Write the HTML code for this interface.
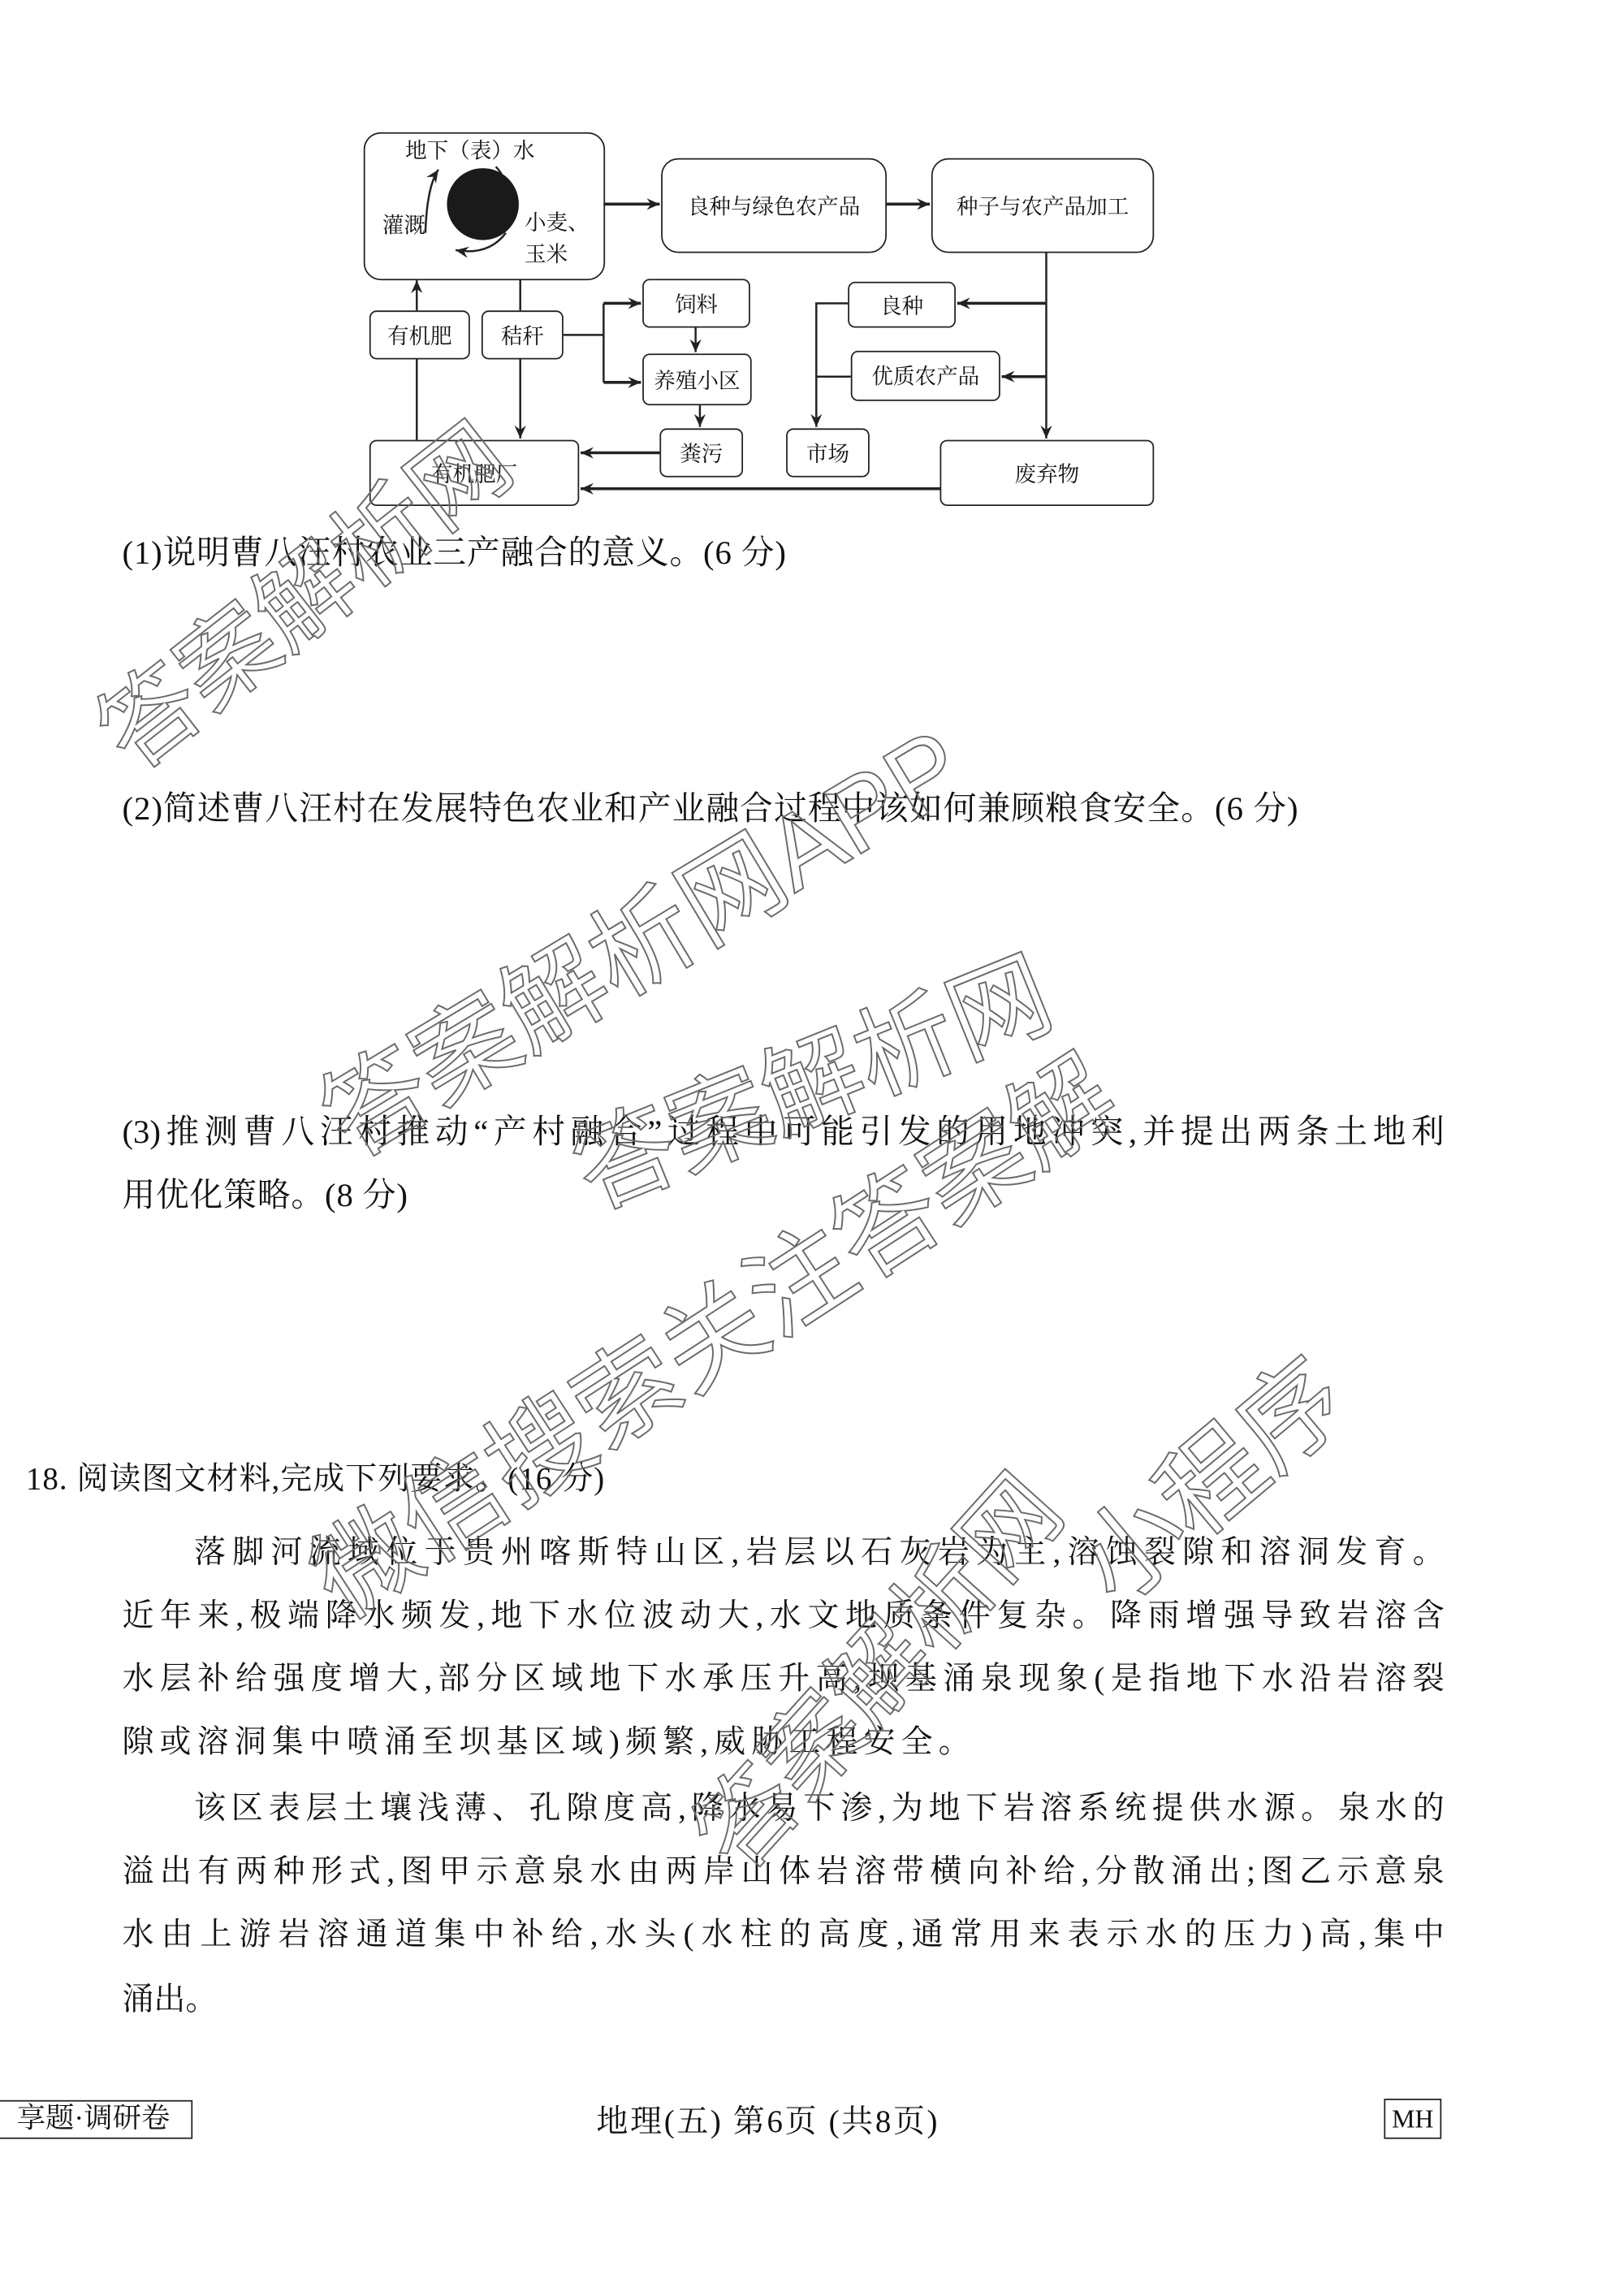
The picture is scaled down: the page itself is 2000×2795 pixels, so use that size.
<!DOCTYPE html>
<html><head><meta charset="utf-8"><style>
html,body{margin:0;padding:0;background:#fff;}
body{width:2000px;height:2794px;overflow:hidden;position:relative;}
#w{position:absolute;left:0;top:0;width:1130px;height:1579px;transform:scale(1.76991);transform-origin:0 0;font-family:"Liberation Serif","Noto Serif CJK SC",serif;color:#111;}
.b{position:absolute;border:1.6px solid #222;border-radius:5px;box-sizing:border-box;display:flex;align-items:center;justify-content:center;font-size:15px;}
.t{position:absolute;white-space:nowrap;}
.q{position:absolute;left:85px;font-size:23px;white-space:nowrap;}
.l{position:absolute;left:85px;width:920px;font-size:22px;text-align:justify;text-align-last:justify;white-space:nowrap;}
.wm{position:absolute;white-space:nowrap;color:rgba(255,255,255,0);-webkit-text-stroke:1.1px #6a6a6a;font-family:"Liberation Sans","Noto Sans CJK SC",sans-serif;transform-origin:0 100%;}
</style></head><body><div id="w">
<svg width="1130" height="400" style="position:absolute;left:0;top:0">
<defs><marker id="a" markerWidth="10" markerHeight="10" refX="9" refY="5" orient="auto" markerUnits="userSpaceOnUse"><path d="M0,1 L9,5 L0,9 L3,5 z" fill="#222"/></marker></defs>
<g stroke="#222" stroke-width="1.4" fill="none">
<line x1="420" y1="142" x2="459" y2="142" stroke-width="2" marker-end="url(#a)"/>
<line x1="617" y1="142" x2="647" y2="142" stroke-width="2" marker-end="url(#a)"/>
<line x1="290" y1="306" x2="290" y2="250"/>
<line x1="290" y1="216" x2="290" y2="195" marker-end="url(#a)"/>
<line x1="362" y1="194" x2="362" y2="216"/>
<line x1="362" y1="250" x2="362" y2="305" marker-end="url(#a)"/>
<polyline points="392,233 420,233"/>
<polyline points="420,211 420,266"/>
<line x1="420" y1="211" x2="446" y2="211" stroke-width="2" marker-end="url(#a)"/>
<line x1="420" y1="266" x2="446" y2="266" stroke-width="2" marker-end="url(#a)"/>
<line x1="484" y1="228" x2="484" y2="245" marker-end="url(#a)"/>
<line x1="487" y1="282" x2="487" y2="297" marker-end="url(#a)"/>
<line x1="459" y1="315" x2="404" y2="315" stroke-width="2" marker-end="url(#a)"/>
<line x1="654" y1="340" x2="404" y2="340" stroke-width="2" marker-end="url(#a)"/>
<line x1="728" y1="176" x2="728" y2="305" marker-end="url(#a)"/>
<line x1="728" y1="211" x2="666" y2="211" stroke-width="2" marker-end="url(#a)"/>
<line x1="728" y1="262" x2="697" y2="262" stroke-width="2" marker-end="url(#a)"/>
<polyline points="590,211 568,211 568,262 592,262"/>
<line x1="568" y1="262" x2="568" y2="297" marker-end="url(#a)"/>
<path d="M296,162 Q297,130 305,118" marker-end="url(#a)"/>
<path d="M345,116 Q355,126 352,146" marker-end="url(#a)"/>
<path d="M352,162 Q340,178 317,174" marker-end="url(#a)"/>
</g>
<circle cx="336" cy="142" r="25" fill="#1a1a1a"/>
</svg>
<div class="b" style="left:253px;top:92px;width:168px;height:103px;border-radius:12px"></div>
<div class="t" style="left:282px;top:94px;font-size:15px">地下（表）水</div>
<div class="t" style="left:266px;top:146px;font-size:15px">灌溉</div>
<div class="t" style="left:365px;top:144px;font-size:15px">小麦、</div>
<div class="t" style="left:365px;top:166px;font-size:15px">玉米</div>
<div class="b" style="left:460px;top:110px;width:157px;height:66px;border-radius:12px">良种与绿色农产品</div>
<div class="b" style="left:648px;top:110px;width:155px;height:66px;border-radius:12px">种子与农产品加工</div>
<div class="b" style="left:257px;top:216px;width:70px;height:34px">有机肥</div>
<div class="b" style="left:335px;top:216px;width:57px;height:34px">秸秆</div>
<div class="b" style="left:447px;top:194px;width:75px;height:34px">饲料</div>
<div class="b" style="left:447px;top:246px;width:76px;height:36px">养殖小区</div>
<div class="b" style="left:459px;top:298px;width:58px;height:34px">粪污</div>
<div class="b" style="left:547px;top:298px;width:58px;height:34px">市场</div>
<div class="b" style="left:590px;top:196px;width:75px;height:32px">良种</div>
<div class="b" style="left:592px;top:244px;width:104px;height:35px">优质农产品</div>
<div class="b" style="left:257px;top:306px;width:146px;height:46px">有机肥厂</div>
<div class="b" style="left:654px;top:306px;width:149px;height:46px">废弃物</div>

<div class="q" style="top:366px;letter-spacing:0.5px">(1)说明曹八汪村农业三产融合的意义。(6 分)</div>
<div class="q" style="top:544px;letter-spacing:0.6px">(2)简述曹八汪村在发展特色农业和产业融合过程中该如何兼顾粮食安全。(6 分)</div>
<div class="q" style="top:769px;width:920px;text-align:justify;text-align-last:justify">(3)推测曹八汪村推动“产村融合”过程中可能引发的用地冲突,并提出两条土地利</div>
<div class="q" style="top:813px;letter-spacing:0.5px">用优化策略。(8 分)</div>

<div class="q" style="left:18px;top:1012px;font-size:22px;letter-spacing:0.6px">18. 阅读图文材料,完成下列要求。(16 分)</div>
<div class="l" style="top:1063px;left:135px;width:870px">落脚河流域位于贵州喀斯特山区,岩层以石灰岩为主,溶蚀裂隙和溶洞发育。</div>
<div class="l" style="top:1107px">近年来,极端降水频发,地下水位波动大,水文地质条件复杂。降雨增强导致岩溶含</div>
<div class="l" style="top:1151px">水层补给强度增大,部分区域地下水承压升高,坝基涌泉现象(是指地下水沿岩溶裂</div>
<div class="l" style="top:1195px;width:590px">隙或溶洞集中喷涌至坝基区域)频繁,威胁工程安全。</div>
<div class="l" style="top:1241px;left:135px;width:870px">该区表层土壤浅薄、孔隙度高,降水易下渗,为地下岩溶系统提供水源。泉水的</div>
<div class="l" style="top:1285px">溢出有两种形式,图甲示意泉水由两岸山体岩溶带横向补给,分散涌出;图乙示意泉</div>
<div class="l" style="top:1329px">水由上游岩溶通道集中补给,水头(水柱的高度,通常用来表示水的压力)高,集中</div>
<div class="l" style="top:1374px;width:60px;text-align-last:left">涌出。</div>

<div class="t" style="left:-4px;top:1461px;width:138px;height:27px;border:1.4px solid #222;box-sizing:border-box;font-size:20px;line-height:24px;text-align:center">享题·调研卷</div>
<div class="t" style="left:415px;top:1459px;font-size:22px;letter-spacing:1.5px">地理(五) 第6页 (共8页)</div>
<div class="t" style="left:963px;top:1460px;width:40px;height:28px;border:1.2px solid #222;box-sizing:border-box;font-size:18px;text-align:center;line-height:26px">MH</div>

<div class="wm" style="left:105px;top:455px;font-size:68px;transform:rotate(-38deg)">答案解析网</div>
<div class="wm" style="left:255px;top:720px;font-size:72px;transform:rotate(-31deg)">答案解析网APP</div>
<div class="wm" style="left:420px;top:760px;font-size:70px;transform:rotate(-22deg)">答案解析网</div>
<div class="wm" style="left:250px;top:1040px;font-size:72px;transform:rotate(-33deg)">微信搜索关注答案解</div>
<div class="wm" style="left:790px;top:1030px;font-size:72px;transform:rotate(-40deg)">小程序</div>
<div class="wm" style="left:530px;top:1220px;font-size:68px;transform:rotate(-48deg)">答案解析网</div>
</div></body></html>
